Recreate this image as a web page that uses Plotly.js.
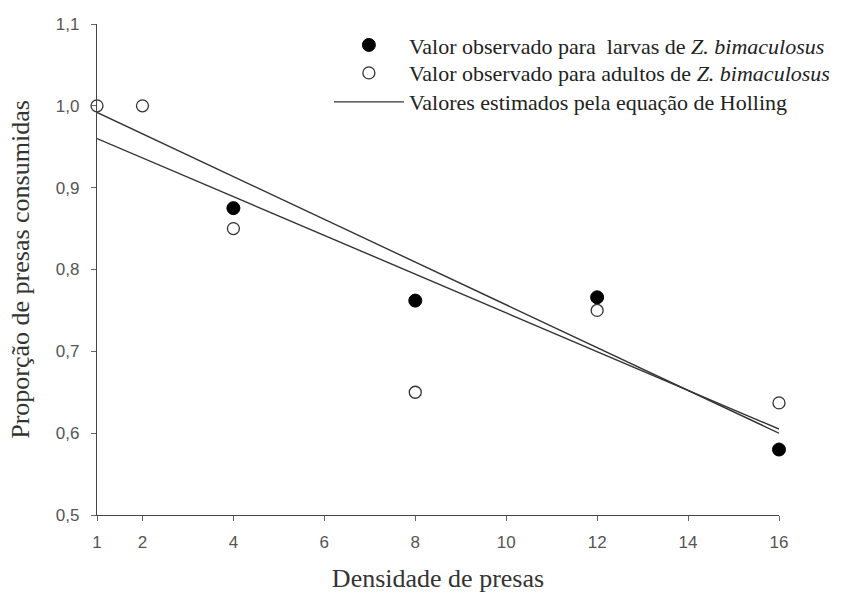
<!DOCTYPE html>
<html>
<head>
<meta charset="utf-8">
<script src="https://cdn.plot.ly/plotly-3.0.1.min.js"></script>
<style>html,body{margin:0;padding:0;background:#fff}#chart{width:855px;height:601px}</style>
</head>
<body>
<div id="chart"></div>
<script>
// Data
var densLarvae = [4, 8, 12, 16];
var propLarvae = [0.875, 0.762, 0.766, 0.580];
var densAdults = [1, 2, 4, 8, 12, 16];
var propAdults = [1.0, 1.0, 0.850, 0.650, 0.750, 0.637];
var densHolling = [1, 16];
var hollingAdults = [0.992, 0.600];
var hollingLarvae = [0.960, 0.605];
var xTicks = [1, 2, 4, 6, 8, 10, 12, 14, 16];
var yTicks = [0.5, 0.6, 0.7, 0.8, 0.9, 1.0, 1.1];
var yTickText = ["0,5", "0,6", "0,7", "0,8", "0,9", "1,0", "1,1"];

var serif = "'Liberation Serif', 'Times New Roman', serif";
var sans = "'Liberation Sans', Arial, sans-serif";

var traces = [
  {x: densHolling, y: hollingAdults, mode: "lines", name: "Valores estimados pela equação de Holling",
   line: {color: "#333", width: 1.4}, showlegend: false, cliponaxis: false},
  {x: densHolling, y: hollingLarvae, mode: "lines", name: "Valores estimados pela equação de Holling",
   line: {color: "#333", width: 1.4}, showlegend: false, cliponaxis: false},
  {x: densLarvae, y: propLarvae, mode: "markers", name: "Valor observado para  larvas de <i>Z. bimaculosus</i>",
   marker: {symbol: "circle", size: 13, color: "#000", line: {color: "#000", width: 1}}, cliponaxis: false,
   legend: "legend"},
  {x: densAdults, y: propAdults, mode: "markers", name: "Valor observado para adultos de <i>Z. bimaculosus</i>",
   marker: {symbol: "circle", size: 12, color: "#fff", line: {color: "#333", width: 1.3}}, cliponaxis: false,
   legend: "legend2"},
  {x: [null], y: [null], mode: "lines", name: "Valores estimados pela equação de Holling",
   line: {color: "#333", width: 1.4}, legend: "legend3"}
];

function leg(yv) {
  return {x: 0.34, y: yv, xanchor: "left", yanchor: "middle", bgcolor: "rgba(0,0,0,0)",
          font: {family: serif, size: 22, color: "#222"}, itemwidth: 70};
}

var layout = {
  width: 855, height: 601,
  margin: {l: 97, r: 76, t: 24, b: 86},
  paper_bgcolor: "#fff", plot_bgcolor: "#fff",
  showlegend: true,
  legend: leg(0.957),
  legend2: leg(0.900),
  legend3: leg(0.841),
  xaxis: {
    range: [1, 16], tickmode: "array", tickvals: xTicks, ticktext: xTicks.map(String),
    showgrid: false, zeroline: false, showline: true, linecolor: "#444", linewidth: 1.2,
    ticks: "outside", ticklen: 5, tickcolor: "#666", tickwidth: 1,
    ticklabelstandoff: 6,
    tickfont: {family: sans, size: 17, color: "#555"},
    title: {text: "Densidade de presas", font: {family: serif, size: 26, color: "#333"}, standoff: 18}
  },
  yaxis: {
    range: [0.5, 1.1], tickmode: "array", tickvals: yTicks, ticktext: yTickText,
    showgrid: false, zeroline: false, showline: true, linecolor: "#444", linewidth: 1.2,
    ticks: "outside", ticklen: 5, tickcolor: "#666", tickwidth: 1,
    ticklabelstandoff: 8,
    tickfont: {family: sans, size: 17, color: "#555"},
    title: {text: "Proporção de presas consumidas", font: {family: serif, size: 26, color: "#333"}, standoff: 18}
  }
};

Plotly.newPlot("chart", traces, layout, {staticPlot: true, displayModeBar: false});
</script>
</body>
</html>
